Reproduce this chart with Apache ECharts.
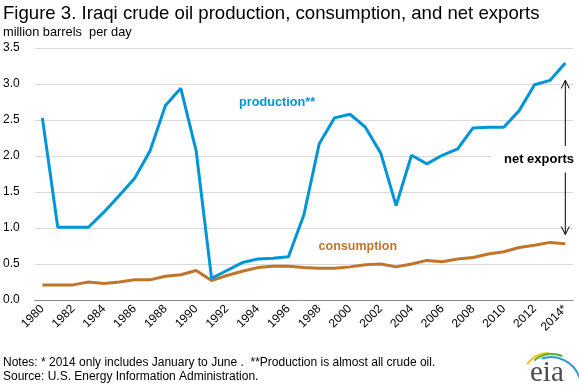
<!DOCTYPE html>
<html><head><meta charset="utf-8">
<script src="https://cdn.jsdelivr.net/npm/echarts@6/dist/echarts.min.js"></script>
<style>html,body{margin:0;padding:0;background:#fff;}#c{width:579px;height:387px;}</style>
</head><body><div id="c"></div>
<script>
var years = ['1980','1981','1982','1983','1984','1985','1986','1987','1988','1989','1990','1991','1992','1993','1994','1995','1996','1997','1998','1999','2000','2001','2002','2003','2004','2005','2006','2007','2008','2009','2010','2011','2012','2013','2014*'];
var production = [2.53,1.01,1.01,1.01,1.22,1.45,1.69,2.07,2.70,2.94,2.07,0.30,0.41,0.52,0.57,0.58,0.60,1.18,2.17,2.53,2.58,2.40,2.04,1.31,2.01,1.89,2.01,2.10,2.39,2.40,2.40,2.63,2.99,3.05,3.29];
var consumption = [0.21,0.21,0.21,0.25,0.23,0.25,0.28,0.28,0.33,0.35,0.41,0.27,0.34,0.40,0.45,0.47,0.47,0.45,0.44,0.44,0.46,0.49,0.50,0.46,0.50,0.55,0.53,0.57,0.59,0.64,0.67,0.73,0.76,0.80,0.78];
var yTicks = [0,0.5,1,1.5,2,2.5,3,3.5];

var FONT = 'Arial, "Liberation Sans", sans-serif';
var BLUE = '#0095d6', BROWN = '#c1752c';
var chart = echarts.init(document.getElementById('c'), null, {renderer:'canvas'});
chart.setOption({
  animation:false,
  backgroundColor:'#fff',
  textStyle:{fontFamily:FONT},
  grid:{left:32,right:6,top:48,bottom:87,containLabel:false},
  xAxis:{type:'category',data:years,boundaryGap:true,
    axisLine:{lineStyle:{color:'#878787',width:1}},
    axisTick:{interval:0,length:5,lineStyle:{color:'#878787'}},
    axisLabel:{interval:1,rotate:45,fontSize:12,color:'#000',fontFamily:FONT,margin:7}},
  yAxis:{type:'value',min:yTicks[0],max:yTicks[yTicks.length-1],interval:0.5,
    axisLine:{show:false},axisTick:{show:false},
    splitLine:{lineStyle:{color:'#d9d9d9',width:1}},
    axisLabel:{fontSize:12,color:'#000',fontFamily:FONT,margin:15,formatter:function(v){return v.toFixed(1);}}},
  series:[
    {name:'production',type:'line',data:production,symbol:'none',lineStyle:{color:BLUE,width:3},z:3},
    {name:'consumption',type:'line',data:consumption,symbol:'none',lineStyle:{color:BROWN,width:3},z:2}
  ]
});
function px(i,v){return chart.convertToPixel({xAxisIndex:0,yAxisIndex:0},[i,v]);}
var last = years.length-1;
var top1 = px(last,3.05), bot1 = px(last,2.14), top2 = px(last,1.77), bot2 = px(last,0.91);
var ax = top1[0];
var pLab = px(15,2.74), cLab = px(19,0.74);
chart.setOption({graphic:[
  {type:'text',left:3,top:4,style:{text:'Figure 3. Iraqi crude oil production, consumption, and net exports',font:'18.6px '+FONT,fill:'#000'}},
  {type:'text',left:3,top:26,style:{text:'million barrels  per day',font:'12.8px '+FONT,fill:'#000'}},
  {type:'text',left:3,top:357,style:{text:'Notes: * 2014 only includes January to June .  **Production is almost all crude oil.',font:'12px '+FONT,fill:'#000'}},
  {type:'text',left:3,top:371,style:{text:'Source: U.S. Energy Information Administration.',font:'12px '+FONT,fill:'#000'}},
  {type:'text',x:pLab[0]-34,y:pLab[1]-7,style:{text:'production**',font:'bold 12.7px '+FONT,fill:BLUE}},
  {type:'text',x:cLab[0]-16,y:cLab[1]-7,style:{text:'consumption',font:'bold 12.5px '+FONT,fill:BROWN}},
  {type:'rect',shape:{x:491,y:151,width:82,height:20},style:{fill:'#fff'},z:10},
  {type:'text',x:504,y:153,style:{text:'net exports',font:'bold 13px '+FONT,fill:'#000'},z:11},
  {type:'line',shape:{x1:ax,y1:top1[1],x2:ax,y2:bot1[1]},style:{stroke:'#000',lineWidth:1},z:11},
  {type:'polyline',shape:{points:[[ax-4,top1[1]+8],[ax,top1[1]],[ax+4,top1[1]+8]]},style:{stroke:'#000',lineWidth:1,fill:null},z:11},
  {type:'line',shape:{x1:ax,y1:top2[1],x2:ax,y2:bot2[1]},style:{stroke:'#000',lineWidth:1},z:11},
  {type:'polyline',shape:{points:[[ax-4,bot2[1]-8],[ax,bot2[1]],[ax+4,bot2[1]-8]]},style:{stroke:'#000',lineWidth:1,fill:null},z:11},
  {type:'arc',shape:{cx:549,cy:380,r:27,startAngle:-Math.PI*0.8,endAngle:-Math.PI*0.5},style:{stroke:'#f2c500',lineWidth:2,fill:null}},
  {type:'arc',shape:{cx:552,cy:382,r:28,startAngle:-Math.PI*0.72,endAngle:-Math.PI*0.38},style:{stroke:'#5ab031',lineWidth:2,fill:null}},
  {type:'arc',shape:{cx:551,cy:387,r:30,startAngle:-Math.PI*0.6,endAngle:-Math.PI*0.1},style:{stroke:'#2a9ad6',lineWidth:2,fill:null}},
  {type:'text',x:530,y:359,style:{text:'eia',font:'29px "Liberation Serif", "DejaVu Serif", serif',fill:'#4d4d4d'}}
]});
</script></body></html>
